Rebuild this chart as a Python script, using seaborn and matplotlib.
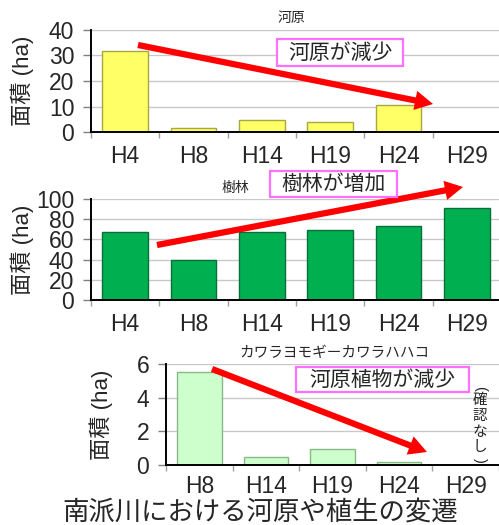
import numpy as np
import pandas as pd
import matplotlib
matplotlib.use("Agg")
import matplotlib.pyplot as plt
import seaborn as sns
from matplotlib.patches import Rectangle, FancyArrowPatch, ArrowStyle

# ---- data ----
years_a = ["H4", "H8", "H14", "H19", "H24", "H29"]
kawara = [31.8, 1.6, 4.6, 3.8, 10.6, 0]
jurin = [67, 40, 67, 69, 73.5, 91]
years_c = ["H8", "H14", "H19", "H24", "H29"]
kawara_plants = [5.55, 0.47, 0.95, 0.18, 0]

titles = ["河原", "樹林", "カワラヨモギーカワラハハコ"]
ylabel = "面積 (ha)"
notes = ["河原が減少", "樹林が増加", "河原植物が減少"]
main_title = "南派川における河原や植生の変遷"
not_found_chars = ["確", "認", "な", "し"]

sns.set_style("white")
plt.rcParams["font.family"] = ["Liberation Sans", "Noto Sans CJK JP", "DejaVu Sans"]
JP = ["Noto Sans CJK JP", "DejaVu Sans"]
MIX = ["Liberation Sans", "Noto Sans CJK JP", "DejaVu Sans"]

W, H = 499, 525
fig = plt.figure(figsize=(W / 100, H / 100), dpi=100)

def fx(px):
    return px / W

def fy(py):
    return 1 - py / H

def make_ax(l, t, r, b):
    return fig.add_axes([fx(l), fy(b), fx(r) - fx(l), (b - t) / H])

ax1 = make_ax(91, 30, 501, 132)
ax2 = make_ax(91, 199, 501, 300)
ax3 = make_ax(166, 364, 499, 465)

specs = [
    (ax1, years_a, kawara, "#FFFF66", "#A8A840", (0, 40), [0, 10, 20, 30, 40], 9.5),
    (ax2, years_a, jurin, "#00B050", "#0A6E38", (0, 100), [0, 20, 40, 60, 80, 100], 9.5),
    (ax3, years_c, kawara_plants, "#CCFFCC", "#88B888", (0, 6), [0, 2, 4, 6], 7.5),
]

for ax, cats, vals, fc, ec, ylim, yt, xpad in specs:
    df = pd.DataFrame({"year": cats, "area": vals})
    sns.barplot(data=df, x="year", y="area", order=cats, color=fc, saturation=1,
                width=0.67, edgecolor=ec, linewidth=1.0, ax=ax, zorder=2)
    ax.set_ylim(*ylim)
    ax.set_yticks(yt)
    ax.set_xlim(-0.5, len(cats) - 0.5)
    ax.set_xlabel("")
    ax.set_ylabel("")
    ax.grid(axis="y", color="#C8C8C8", lw=1.0, zorder=0)
    ax.set_axisbelow(True)
    for s in ["top", "right"]:
        ax.spines[s].set_visible(False)
    ax.spines["left"].set_color("black")
    ax.spines["left"].set_linewidth(1.4)
    ax.spines["bottom"].set_color("black")
    ax.spines["bottom"].set_linewidth(1.4)
    ax.tick_params(axis="y", which="major", left=True, length=5.5, width=1,
                   color="#808080", pad=6.5, labelsize=16.5)
    ax.tick_params(axis="x", which="major", bottom=True, length=0, pad=xpad, labelsize=16.5)
    ax.set_xticks(np.arange(-0.5, len(cats) + 0.5, 1.0), minor=True)
    ax.tick_params(axis="x", which="minor", bottom=True, length=4.5, width=1, color="#A0A0A0")

# y labels
for ax, xc in [(ax1, -0.168), (ax2, -0.168), (ax3, -0.196)]:
    ax.set_ylabel(ylabel, fontsize=16, family=MIX, va="center")
    ax.yaxis.set_label_coords(xc, 0.5)

# small titles
fig.text(fx(291), fy(18), titles[0], ha="center", va="center", fontsize=10, family=JP)
fig.text(fx(235), fy(188), titles[1], ha="center", va="center", fontsize=10, family=JP)
fig.text(fx(334), fy(353), titles[2], ha="center", va="center", fontsize=10.5, family=JP)

# arrows
def arrow(p0, p1):
    st = ArrowStyle.Simple(head_length=13, head_width=14, tail_width=4.5)
    a = FancyArrowPatch((fx(p0[0]), fy(p0[1])), (fx(p1[0]), fy(p1[1])),
                        transform=fig.transFigure, arrowstyle=st, mutation_scale=1,
                        color="#FF0000", lw=0, shrinkA=0, shrinkB=0, zorder=5)
    fig.add_artist(a)

arrow((138, 45), (433, 104))
arrow((157, 245), (463, 187))
arrow((212, 369), (427, 452))

# note boxes
def note_box(l, t, r, b, text):
    rect = Rectangle((fx(l), fy(b)), fx(r) - fx(l), (b - t) / H, transform=fig.transFigure,
                     facecolor="white", edgecolor="#FF70FF", lw=1.6, zorder=6)
    fig.add_artist(rect)
    fig.text(fx((l + r) / 2), fy((t + b) / 2), text, ha="center", va="center",
             fontsize=15, family=JP, zorder=7)

note_box(277, 39, 403, 66, notes[0])
note_box(270, 171, 397, 197, notes[1])
note_box(296, 367, 469, 392, notes[2])

# vertical "（確認なし）"
fig.text(fx(480), fy(388), "(", rotation=-90, ha="center", va="center",
         fontsize=10.5, family=["Liberation Sans"])
for ch, yy in zip(not_found_chars, [400, 416, 432, 447]):
    fig.text(fx(480), fy(yy), ch, ha="center", va="center", fontsize=10.5, family=JP)
fig.text(fx(480), fy(460), ")", rotation=-90, ha="center", va="center",
         fontsize=10.5, family=["Liberation Sans"])

fig.text(fx(260), fy(512), main_title, ha="center", va="center", fontsize=19, family=JP)

fig.savefig("out.png", dpi=100)
